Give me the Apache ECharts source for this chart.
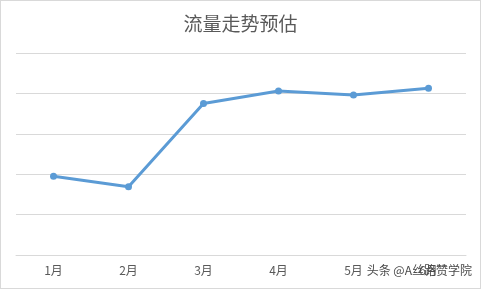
<!DOCTYPE html>
<html>
<head>
<meta charset="utf-8">
<script src="https://cdn.jsdelivr.net/npm/echarts@6/dist/echarts.min.js"></script>
<style>
  html, body { margin: 0; padding: 0; background: #fff; }
  #chart {
    width: 481px;
    height: 289px;
    box-sizing: border-box;
    border: 1px solid #d9d9d9;
  }
</style>
</head>
<body>
<div id="chart"></div>
<script>
// data
const months = ['1月', '2月', '3月', '4月', '5月', '6月']
const flow = [1.95, 1.69, 3.75, 4.06, 3.96, 4.13]
const titleText = '流量走势预估'
const watermark = '头条 @A丝路赞学院'

const myChart = echarts.init(document.getElementById('chart'))

const option = {
  animation: false,
  textStyle: { fontFamily: '"Noto Sans CJK SC", sans-serif' },
  title: {
    text: titleText,
    left: 'center',
    top: 8,
    textStyle: {
      color: '#595959',
      fontSize: 19,
      fontWeight: 'normal',
      fontFamily: '"Noto Sans CJK SC", sans-serif'
    }
  },
  grid: {
    left: 15,
    right: 14,
    top: 52,
    bottom: 33
  },
  xAxis: {
    type: 'category',
    data: months,
    boundaryGap: true,
    axisLine: { lineStyle: { color: '#d9d9d9', width: 1 } },
    axisTick: { show: false },
    axisLabel: {
      color: '#595959',
      fontSize: 12,
      margin: 9
    }
  },
  yAxis: {
    type: 'value',
    min: 0,
    max: 5,
    interval: 1,
    axisLabel: { show: false },
    axisLine: { show: false },
    axisTick: { show: false },
    splitLine: { lineStyle: { color: '#d9d9d9', width: 1 } }
  },
  graphic: [
    {
      type: 'text',
      right: 8,
      top: 263,
      z: 100,
      style: {
        text: watermark,
        fill: '#4a4a4a',
        fontSize: 12,
        fontFamily: '"Noto Sans CJK SC", sans-serif'
      }
    }
  ],
  series: [
    {
      type: 'line',
      data: flow,
      symbol: 'circle',
      symbolSize: 7,
      itemStyle: { color: '#5b9bd5' },
      lineStyle: { color: '#5b9bd5', width: 3 }
    }
  ]
}

myChart.setOption(option)
</script>
</body>
</html>
